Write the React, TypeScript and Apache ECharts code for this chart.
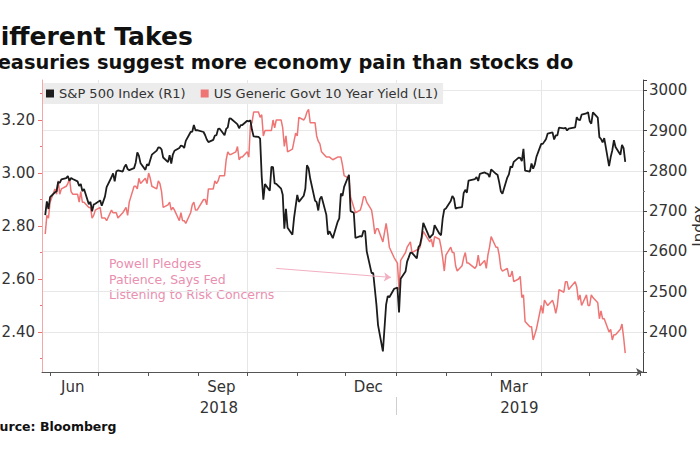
import React, { useEffect, useRef } from "react";
import * as echarts from "echarts";

// Trading days (month -> day numbers)
const tradingDays: [string, number[]][] = [
  ["2018-05", [29, 30, 31]],
  ["2018-06", [1, 4, 5, 6, 7, 8, 11, 12, 13, 14, 15, 18, 19, 20, 21, 22, 25, 26, 27, 28, 29]],
  ["2018-07", [2, 3, 5, 6, 9, 10, 11, 12, 13, 16, 17, 18, 19, 20, 23, 24, 25, 26, 27, 30, 31]],
  ["2018-08", [1, 2, 3, 6, 7, 8, 9, 10, 13, 14, 15, 16, 17, 20, 21, 22, 23, 24, 27, 28, 29, 30, 31]],
  ["2018-09", [4, 5, 6, 7, 10, 11, 12, 13, 14, 17, 18, 19, 20, 21, 24, 25, 26, 27, 28]],
  ["2018-10", [1, 2, 3, 4, 5, 8, 9, 10, 11, 12, 15, 16, 17, 18, 19, 22, 23, 24, 25, 26, 29, 30, 31]],
  ["2018-11", [1, 2, 5, 6, 7, 8, 9, 12, 13, 14, 15, 16, 19, 20, 21, 23, 26, 27, 28, 29, 30]],
  ["2018-12", [3, 4, 6, 7, 10, 11, 12, 13, 14, 17, 18, 19, 20, 21, 24, 26, 27, 28, 31]],
  ["2019-01", [2, 3, 4, 7, 8, 9, 10, 11, 14, 15, 16, 17, 18, 22, 23, 24, 25, 28, 29, 30, 31]],
  ["2019-02", [1, 4, 5, 6, 7, 8, 11, 12, 13, 14, 15, 19, 20, 21, 22, 25, 26, 27, 28]],
  ["2019-03", [1, 4, 5, 6, 7, 8, 11, 12, 13, 14, 15, 18, 19, 20, 21, 22, 25, 26, 27, 28, 29]],
  ["2019-04", [1, 2, 3, 4, 5, 8, 9, 10, 11, 12, 15, 16, 17, 18, 22, 23, 24, 25, 26, 29, 30]],
  ["2019-05", [1, 2, 3, 6, 7, 8, 9, 10, 13, 14, 15, 16, 17, 20, 21, 22, 23]],
];

// S&P 500 Index (R1)
const spxIndex = [
  2689.9, 2724.0, 2705.3,
  2734.6, 2746.9, 2748.8, 2772.4, 2770.4, 2779.0, 2782.0, 2786.9, 2775.6, 2782.5, 2779.7, 2773.9, 2762.6, 2767.3, 2749.8, 2754.9, 2717.1, 2723.1, 2699.6, 2716.3, 2718.4,
  2726.7, 2713.2, 2736.6, 2759.8, 2784.2, 2793.8, 2774.0, 2798.3, 2801.3, 2798.4, 2809.6, 2815.6, 2804.5, 2801.8, 2806.9, 2820.4, 2846.1, 2837.4, 2818.8, 2802.6, 2816.3,
  2813.4, 2827.2, 2840.4, 2850.4, 2858.5, 2857.7, 2853.6, 2833.3, 2821.9, 2839.1, 2818.4, 2840.7, 2850.1, 2857.1, 2862.9, 2861.8, 2856.9, 2874.7, 2896.7, 2897.5, 2914.0, 2901.1, 2901.5,
  2896.7, 2888.6, 2878.1, 2871.7, 2877.1, 2887.9, 2888.9, 2904.2, 2905.0, 2888.8, 2904.3, 2908.0, 2930.8, 2929.7, 2919.4, 2915.6, 2906.0, 2914.0, 2914.0,
  2924.6, 2923.4, 2925.5, 2901.6, 2885.6, 2884.4, 2880.3, 2785.7, 2728.4, 2767.1, 2750.8, 2809.9, 2809.2, 2768.8, 2767.8, 2755.9, 2740.7, 2656.1, 2705.6, 2658.7, 2641.3, 2682.6, 2711.7,
  2740.4, 2723.1, 2738.3, 2755.5, 2813.9, 2806.8, 2781.0, 2726.2, 2722.2, 2701.6, 2730.2, 2736.3, 2690.7, 2641.9, 2649.9, 2632.6, 2673.5, 2682.2, 2743.8, 2737.8, 2760.2,
  2790.4, 2700.1, 2696.0, 2633.1, 2637.7, 2636.8, 2651.1, 2650.5, 2600.0, 2545.9, 2546.2, 2507.0, 2467.4, 2416.6, 2351.1, 2467.7, 2488.8, 2485.7, 2506.9,
  2510.0, 2447.9, 2531.9, 2549.7, 2574.4, 2585.0, 2596.6, 2596.3, 2582.6, 2610.3, 2616.1, 2636.0, 2670.7, 2632.9, 2638.7, 2642.3, 2664.8, 2643.9, 2640.0, 2681.1, 2704.1,
  2706.5, 2724.9, 2737.7, 2731.6, 2706.1, 2707.9, 2709.8, 2744.7, 2753.0, 2745.7, 2775.6, 2779.8, 2784.7, 2774.9, 2792.7, 2796.1, 2793.9, 2792.4, 2784.5,
  2803.7, 2792.8, 2789.7, 2771.5, 2748.9, 2743.1, 2783.3, 2791.5, 2810.9, 2808.5, 2822.5, 2832.9, 2832.6, 2824.2, 2854.9, 2800.7, 2798.4, 2818.5, 2805.4, 2815.4, 2834.4,
  2867.2, 2867.2, 2873.4, 2879.4, 2892.7, 2895.8, 2878.2, 2888.2, 2888.3, 2907.4, 2905.6, 2907.1, 2900.5, 2905.0, 2908.0, 2933.7, 2927.3, 2926.2, 2939.9, 2943.0, 2945.8,
  2923.7, 2917.5, 2945.6, 2932.5, 2884.1, 2879.4, 2870.7, 2881.4, 2811.9, 2834.4, 2851.0, 2876.3, 2859.5, 2840.2, 2864.4, 2856.3, 2822.2,
];

// US Generic Govt 10 Year Yield (L1)
const tenYearYield = [
  2.77, 2.84, 2.83,
  2.89, 2.94, 2.92, 2.97, 2.92, 2.94, 2.95, 2.96, 2.98, 2.93, 2.92, 2.92, 2.89, 2.93, 2.89, 2.89, 2.87, 2.87, 2.83, 2.84, 2.86,
  2.87, 2.83, 2.83, 2.82, 2.86, 2.85, 2.85, 2.85, 2.83, 2.85, 2.86, 2.87, 2.84, 2.89, 2.95, 2.95, 2.94, 2.98, 2.96, 2.98, 2.96,
  3.00, 2.98, 2.95, 2.94, 2.97, 2.96, 2.93, 2.87, 2.88, 2.89, 2.86, 2.87, 2.86, 2.82, 2.85, 2.82, 2.82, 2.81, 2.85, 2.88, 2.89, 2.86, 2.86,
  2.90, 2.90, 2.88, 2.94, 2.94, 2.97, 2.96, 2.97, 2.99, 2.99, 3.05, 3.08, 3.07, 3.07, 3.08, 3.10, 3.05, 3.06, 3.06,
  3.08, 3.06, 3.18, 3.19, 3.23, 3.23, 3.21, 3.22, 3.14, 3.16, 3.16, 3.16, 3.20, 3.17, 3.20, 3.20, 3.17, 3.10, 3.14, 3.08, 3.09, 3.12, 3.15,
  3.14, 3.21, 3.20, 3.21, 3.23, 3.24, 3.19, 3.19, 3.14, 3.12, 3.11, 3.08, 3.06, 3.06, 3.06, 3.05, 3.06, 3.06, 3.06, 3.03, 2.99,
  2.98, 2.91, 2.87, 2.85, 2.86, 2.88, 2.91, 2.91, 2.89, 2.86, 2.82, 2.77, 2.79, 2.79, 2.74, 2.81, 2.77, 2.72, 2.68,
  2.66, 2.56, 2.67, 2.70, 2.72, 2.73, 2.74, 2.70, 2.71, 2.71, 2.72, 2.75, 2.78, 2.74, 2.75, 2.72, 2.76, 2.75, 2.72, 2.68, 2.63,
  2.69, 2.72, 2.70, 2.70, 2.65, 2.63, 2.65, 2.68, 2.70, 2.66, 2.66, 2.64, 2.65, 2.69, 2.65, 2.67, 2.64, 2.69, 2.72,
  2.76, 2.72, 2.72, 2.69, 2.64, 2.63, 2.64, 2.61, 2.61, 2.63, 2.59, 2.60, 2.61, 2.53, 2.54, 2.44, 2.42, 2.42, 2.37, 2.39, 2.41,
  2.50, 2.47, 2.52, 2.51, 2.50, 2.52, 2.50, 2.47, 2.50, 2.56, 2.55, 2.59, 2.59, 2.56, 2.59, 2.57, 2.52, 2.54, 2.50, 2.54, 2.50,
  2.50, 2.54, 2.53, 2.51, 2.45, 2.48, 2.45, 2.45, 2.40, 2.41, 2.37, 2.39, 2.39, 2.41, 2.43, 2.38, 2.32,
];

const seriesNames = ["S&P 500 Index (R1)", "US Generic Govt 10 Year Yield (L1)"];
const axisStart = "2018-05-27";
const axisEnd = "2019-06-03";
const monthTickDates = [
  "2018-06-01", "2018-07-01", "2018-08-01", "2018-09-01", "2018-10-01", "2018-11-01",
  "2018-12-01", "2019-01-01", "2019-02-01", "2019-03-01", "2019-04-01", "2019-05-01", "2019-06-01",
];
const quarterGridDates = ["2018-07-01", "2018-10-01", "2019-01-01", "2019-04-01"];
const monthLabelDates = ["2018-06-15", "2018-09-15", "2018-12-15", "2019-03-15"];
const monthLabels = ["Jun", "Sep", "Dec", "Mar"];
const yearLabels = ["2018", "2019"];
const yearBreakDate = "2019-01-01";
const yieldTicks = [2.4, 2.6, 2.8, 3.0, 3.2];
const yieldMinorTicks = [2.3, 2.5, 2.7, 2.9, 3.1, 3.3];
const yieldMin = 2.249;
const yieldMax = 3.351;
const spxMin = 2300;
const spxMax = 3026;
const annotationLines = ["Powell Pledges", "Patience, Says Fed", "Listening to Risk Concerns"];
const arrowFrom: [string, number] = ["2018-10-19", 2.64];
const arrowTo: [string, number] = ["2018-12-29", 2.606];

const ts = (s: string) => {
  const [y, m, d] = s.split("-").map(Number);
  return new Date(y, m - 1, d).getTime();
};

const dates = tradingDays.flatMap(([m, ds]) => ds.map((d) => `${m}-${String(d).padStart(2, "0")}`));

const FONT = '"DejaVu Sans", Verdana, sans-serif';

export default function App() {
  const ref = useRef<HTMLDivElement>(null);

  useEffect(() => {
    if (!ref.current) return;
    const chart = echarts.init(ref.current, undefined, { renderer: "svg" });

    const xMin = ts(axisStart);
    const xMax = ts(axisEnd);
    const brk = ts(yearBreakDate);
    const yearMids = [(xMin + brk) / 2, (brk + xMax) / 2];
    const monthMap = new Map(monthLabelDates.map((d, i) => [ts(d), monthLabels[i]]));
    const yearMap = new Map(yearMids.map((v, i) => [v, yearLabels[i]]));

    const spxData = dates.map((d, i) => [ts(d), spxIndex[i]]);
    const yldData = dates.map((d, i) => [ts(d), tenYearYield[i]]);

    const labelStyle = { fontFamily: FONT, fontSize: 15, color: "#333" };

    chart.setOption({
      animation: false,
      backgroundColor: "#ffffff",
      grid: { left: 42, right: 57, top: 80, bottom: 78, containLabel: false, outerBoundsMode: "none" },
      legend: {
        data: seriesNames,
        left: 43,
        top: 83,
        padding: [4, 5, 4, 3],
        itemGap: 15,
        itemWidth: 8,
        itemHeight: 8,
        icon: "rect",
        backgroundColor: "#ececec",
        selectedMode: false,
        textStyle: { fontFamily: FONT, fontSize: 13, color: "#333" },
      },
      xAxis: [
        {
          type: "value",
          position: "bottom",
          min: xMin,
          max: xMax,
          axisLine: { show: true, lineStyle: { color: "#555", width: 1 }, symbol: ["none", "arrow"], symbolSize: [6, 7] },
          axisTick: { show: true, customValues: monthTickDates.map(ts), length: 4, lineStyle: { color: "#555" } },
          axisLabel: {
            customValues: monthLabelDates.map(ts),
            formatter: (v: number) => monthMap.get(v) ?? "",
            margin: 7,
            ...labelStyle,
          },
          splitLine: { show: false },
        },
        {
          type: "value",
          position: "bottom",
          offset: 25,
          min: xMin,
          max: xMax,
          axisLine: { show: false },
          axisTick: { show: true, customValues: [brk], length: 18, lineStyle: { color: "#cfcfcf" } },
          axisLabel: {
            customValues: yearMids,
            formatter: (v: number) => yearMap.get(v) ?? "",
            margin: 3,
            ...labelStyle,
          },
          splitLine: { show: false },
        },
      ],
      yAxis: [
        {
          type: "value",
          position: "left",
          min: yieldMin,
          max: yieldMax,
          axisLine: { show: true, lineStyle: { color: "#f3a7a7" } },
          axisTick: { show: true, customValues: yieldTicks, length: 4, lineStyle: { color: "#ee6f6f" } },
          axisLabel: { customValues: yieldTicks, formatter: (v: number) => v.toFixed(2), margin: 7, ...labelStyle },
          splitLine: { show: false },
        },
        {
          type: "value",
          position: "right",
          min: spxMin,
          max: spxMax,
          interval: 100,
          axisLine: { show: true, lineStyle: { color: "#444" } },
          axisTick: { show: true, length: 4, lineStyle: { color: "#444" } },
          minorTick: { show: true, splitNumber: 2, length: 2, lineStyle: { color: "#777" } },
          axisLabel: {
            margin: 6,
            showMaxLabel: false,
            showMinLabel: false,
            formatter: (v: number) => String(v),
            ...labelStyle,
          },
          splitLine: { show: true, showMaxLine: false, lineStyle: { color: "#e8e8e8", width: 1 } },
        },
        {
          type: "value",
          position: "left",
          min: yieldMin,
          max: yieldMax,
          axisLine: { show: false },
          axisTick: { show: true, customValues: yieldMinorTicks, length: 2, lineStyle: { color: "#ee6f6f" } },
          axisLabel: { show: false },
          splitLine: { show: false },
        },
      ],
      series: [
        {
          name: seriesNames[1],
          type: "line",
          xAxisIndex: 0,
          yAxisIndex: 0,
          data: yldData,
          symbol: "none",
          showSymbol: false,
          lineStyle: { color: "#ef7575", width: 1.5 },
          itemStyle: { color: "#ef7575" },
          z: 2,
          markLine: {
            silent: true,
            symbol: ["none", "arrow"],
            symbolSize: 7,
            label: { show: false },
            lineStyle: { color: "#f2afc2", width: 1, type: "solid" },
            data: [[{ coord: [ts(arrowFrom[0]), arrowFrom[1]] }, { coord: [ts(arrowTo[0]), arrowTo[1]] }]],
          },
        },
        {
          name: seriesNames[0],
          type: "line",
          xAxisIndex: 0,
          yAxisIndex: 1,
          data: spxData,
          symbol: "none",
          showSymbol: false,
          lineStyle: { color: "#1c1c1c", width: 1.8 },
          itemStyle: { color: "#1c1c1c" },
          z: 3,
          markLine: {
            silent: true,
            z: 1,
            symbol: ["none", "none"],
            label: { show: false },
            lineStyle: { color: "#e6e6e6", width: 1, type: "solid" },
            data: quarterGridDates.map((d) => ({ xAxis: ts(d) })),
          },
        },
      ],
      graphic: [
        {
          type: "text",
          x: -20,
          y: 36,
          style: { text: "Different Takes", font: `bold 25px ${FONT}`, fill: "#111", verticalAlign: "middle" },
        },
        {
          type: "text",
          x: -23,
          y: 62,
          style: {
            text: "Treasuries suggest more economy pain than stocks do",
            font: `bold 19.4px ${FONT}`,
            fill: "#111",
            verticalAlign: "middle",
          },
        },
        {
          type: "text",
          x: -18,
          y: 426,
          style: { text: "Source: Bloomberg", font: `bold 12.5px ${FONT}`, fill: "#111", verticalAlign: "middle" },
        },
        {
          type: "text",
          x: 109,
          y: 256,
          style: {
            text: annotationLines.join("\n"),
            font: `12.5px ${FONT}`,
            lineHeight: 15.5,
            fill: "#e98fb0",
            verticalAlign: "top",
          },
        },
        {
          type: "text",
          x: 699,
          y: 226,
          rotation: Math.PI / 2,
          style: { text: "Index", font: `15px ${FONT}`, fill: "#333", align: "center", verticalAlign: "middle" },
        },
      ],
    });

    return () => chart.dispose();
  }, []);

  return <div ref={ref} style={{ position: "absolute", left: 0, top: 0, width: 700, height: 450 }} />;
}
